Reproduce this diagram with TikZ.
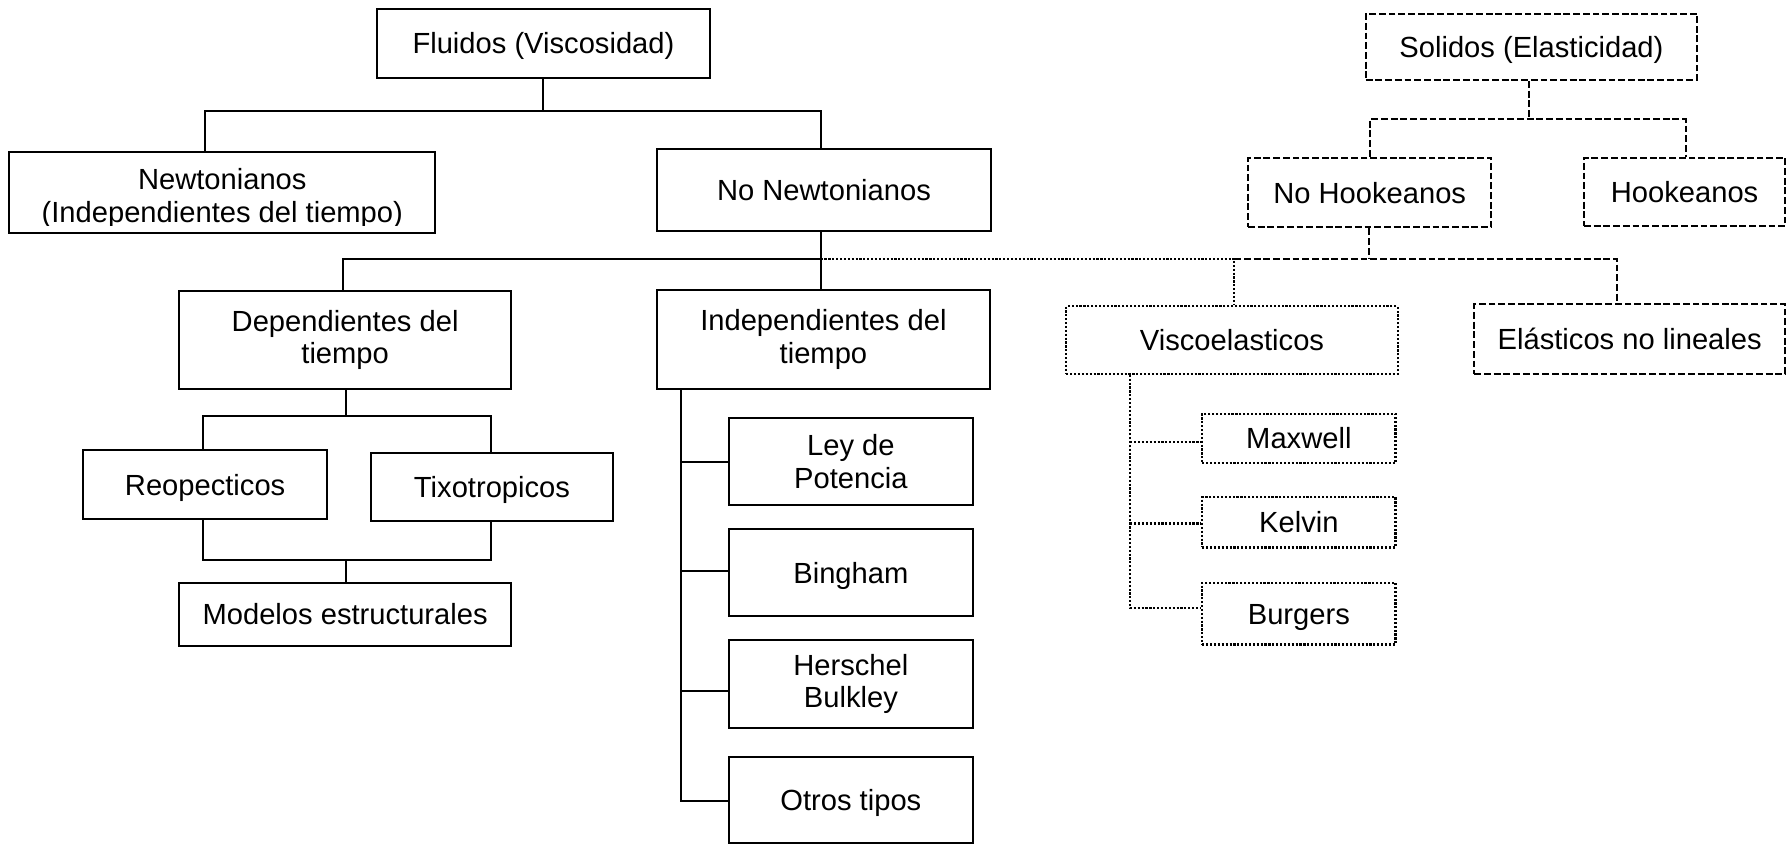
\documentclass[tikz,border=0pt]{standalone}
\usepackage{fontspec}
\setmainfont{Liberation Sans}
\begin{document}
\begin{tikzpicture}[x=1pt,y=-1pt,
  lbl/.style={font=\fontsize{25.5}{28.5}\selectfont, align=center},
  one/.style={text height=18.3pt, text depth=0pt},
  sbox/.style={draw, line width=1.8pt, inner sep=0pt, lbl},
  dbox/.style={draw, line width=1.8pt, dash pattern=on 6pt off 2.5pt, inner sep=0pt, lbl},
  obox/.style={draw, line width=1.9pt, dash pattern=on 1.9pt off 1.5pt, inner sep=0pt, lbl},
  conn/.style={line width=1.8pt},
  dashconn/.style={line width=1.8pt, dash pattern=on 6pt off 2.5pt},
  dotconn/.style={line width=1.9pt, dash pattern=on 1.9pt off 1.5pt}]
\useasboundingbox (0,0) rectangle (1568,739);

% ---- Fluid side boxes
\node[sbox, one, minimum width=291pt, minimum height=60pt] (fluidos) at (475.5,38) {Fluidos (Viscosidad)};
\node[sbox, minimum width=373pt, minimum height=71pt] (newt) at (194.5,168.5) {};
\begin{scope}
  \clip (10,134) rectangle (380,197);
  \node[lbl, anchor=base, inner sep=0pt] (newtA) at (194.5,165.5) {Newtonianos};
  \node[lbl, anchor=base, inner sep=0pt] (newtB) at (194.5,195) {(Independientes del tiempo)};
\end{scope}
\node[sbox, one, minimum width=292pt, minimum height=72pt] (nonewt) at (721,166) {No Newtonianos};
\node[sbox, minimum width=290pt, minimum height=85pt] (dep) at (302,297.5) {Dependientes del\\tiempo};
\node[sbox, minimum width=291pt, minimum height=86pt] (indep) at (720.5,297) {Independientes del\\tiempo};
\node[sbox, one, minimum width=213pt, minimum height=60pt] (reo) at (179.5,424) {Reopecticos};
\node[sbox, one, minimum width=211pt, minimum height=60pt] (tixo) at (430.5,426) {Tixotropicos};
\node[sbox, one, minimum width=290pt, minimum height=55pt] (modelos) at (302,537.5) {Modelos estructurales};
\node[sbox, minimum width=213pt, minimum height=76pt] (ley) at (744.5,404) {Ley de\\Potencia};
\node[sbox, one, minimum width=213pt, minimum height=76pt] (bingham) at (744.5,501) {Bingham};
\node[sbox, minimum width=213pt, minimum height=77pt] (herschel) at (744.5,598.5) {Herschel\\Bulkley};
\node[sbox, one, minimum width=213pt, minimum height=75.5pt] (otros) at (744.5,699.75) {Otros tipos};

% ---- Solid side boxes
\node[dbox, one, minimum width=290pt, minimum height=58pt] (solidos) at (1340,41) {Solidos (Elasticidad)};
\node[dbox, one, minimum width=213pt, minimum height=61pt] (nohook) at (1198.5,168.5) {No Hookeanos};
\node[dbox, one, minimum width=176pt, minimum height=60pt] (hook) at (1474,168) {Hookeanos};
\node[obox, one, minimum width=290pt, minimum height=59pt] (visco) at (1078,297.5) {Viscoelasticos};
\node[dbox, one, minimum width=272pt, minimum height=61pt] (elast) at (1426,296.5) {Elásticos no lineales};
\node[obox, one, minimum width=169pt, minimum height=43pt] (maxwell) at (1136.5,383.5) {Maxwell};
\node[obox, one, minimum width=169pt, minimum height=44pt] (kelvin) at (1136.5,457) {Kelvin};
\node[obox, one, minimum width=169pt, minimum height=54pt] (burgers) at (1136.5,537) {Burgers};

% ---- junction coordinates
\coordinate (jF) at (475.5,97.5);
\coordinate (jFL) at (179.5,97.5);
\coordinate (jFR) at (718.5,97.5);
\coordinate (jN) at (718,226.5);
\coordinate (jNL) at (300,226.5);
\coordinate (jV) at (1080,226.5);
\coordinate (jE) at (1415,226.5);
\coordinate (jH) at (1198,226.5);
\coordinate (jS) at (1338,104.5);
\coordinate (jSL) at (1198.5,104.5);
\coordinate (jSR) at (1475,104.5);
\coordinate (jD) at (303,364);
\coordinate (jDL) at (178,364);
\coordinate (jDR) at (429.5,364);
\coordinate (jM) at (303,490);
\coordinate (jML) at (178,490);
\coordinate (jMR) at (429.5,490);
\coordinate (bL) at (596,404);
\coordinate (bB) at (596,500);
\coordinate (bH) at (596,604.5);
\coordinate (bO) at (596,701);
\coordinate (vM) at (989,386.5);
\coordinate (vK) at (989,458);
\coordinate (vB) at (989,532.3);

% ---- solid connectors
\draw[conn] (fluidos.south -| jF) -- (jF);
\draw[conn] (newt.north -| jFL) -- (jFL) -- (jFR) -- (nonewt.north -| jFR);
\draw[conn] (nonewt.south -| jN) -- (jN);
\draw[conn] (dep.north -| jNL) -- (jNL) -- (jN) -- (indep.north -| jN);
\draw[conn] (dep.south -| jD) -- (jD);
\draw[conn] (reo.north -| jDL) -- (jDL) -- (jDR) -- (tixo.north -| jDR);
\draw[conn] (reo.south -| jML) -- (jML) -- (jMR) -- (tixo.south -| jMR);
\draw[conn] (jM) -- (modelos.north -| jM);
\draw[conn] (indep.south -| bO) -- (bO) -- (otros.west |- bO);
\draw[conn] (bL) -- (ley.west |- bL);
\draw[conn] (bB) -- (bingham.west |- bB);
\draw[conn] (bH) -- (herschel.west |- bH);

% ---- dashed connectors
\draw[dashconn] (solidos.south -| jS) -- (jS);
\draw[dashconn] (nohook.north -| jSL) -- (jSL) -- (jSR) -- (hook.north -| jSR);
\draw[dashconn] (nohook.south -| jH) -- (jH);
\draw[dashconn] (jV) -- (jE) -- (elast.north -| jE);

% ---- dotted connectors
\draw[dotconn] (jN) -- (jV) -- (visco.north -| jV);
\draw[dotconn] (visco.south -| vB) -- (vB) -- (burgers.west |- vB);
\draw[dotconn] (vM) -- (maxwell.west |- vM);
\draw[dotconn] (vK) -- (kelvin.west |- vK);
\end{tikzpicture}
\end{document}
